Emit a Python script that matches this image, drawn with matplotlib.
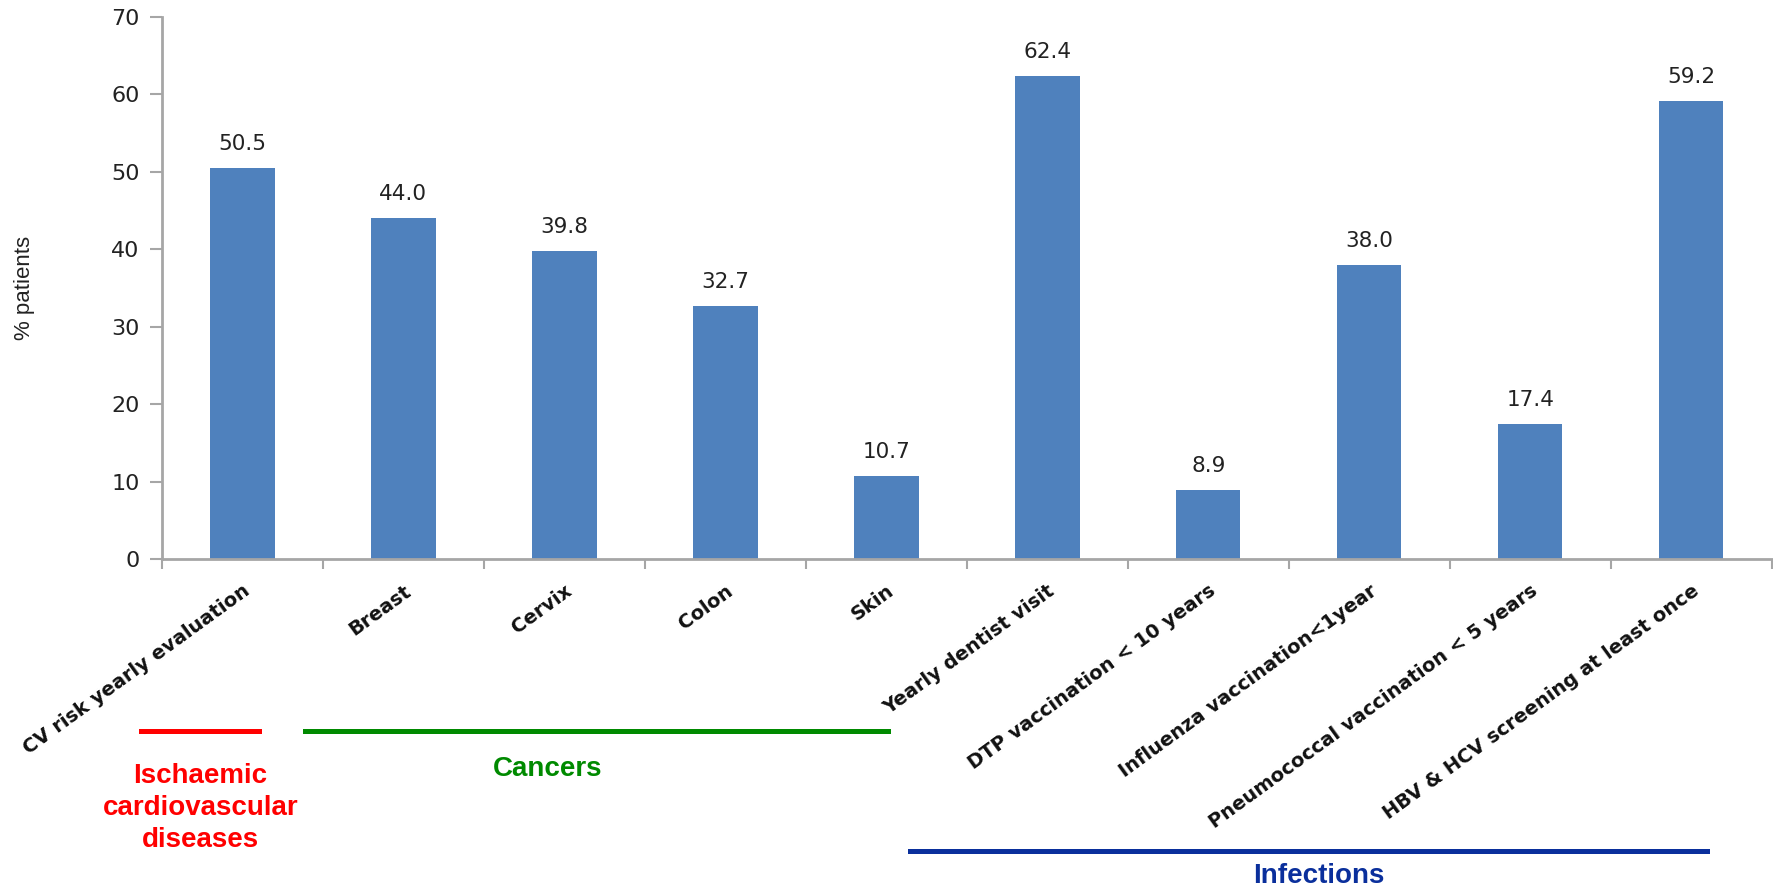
import matplotlib
matplotlib.use("Agg")
import matplotlib.pyplot as plt
from matplotlib.lines import Line2D
import numpy as np

# Data
categories = [
    "CV risk yearly evaluation", "Breast", "Cervix", "Colon", "Skin",
    "Yearly dentist visit", "DTP vaccination < 10 years",
    "Influenza vaccination<1year", "Pneumococcal vaccination < 5 years",
    "HBV & HCV screening at least once",
]
values = [50.5, 44.0, 39.8, 32.7, 10.7, 62.4, 8.9, 38.0, 17.4, 59.2]
y_ticks = [0, 10, 20, 30, 40, 50, 60, 70]

group_names = ["Ischaemic\ncardiovascular\ndiseases", "Cancers", "Infections"]
group_colors = ["#FF0000", "#008A00", "#0A2F9C"]

BAR = "#4F81BD"
AXIS = "#A6A6A6"
NARROW = ["Liberation Sans Narrow", "Liberation Sans", "DejaVu Sans"]

fig = plt.figure(figsize=(17.73, 8.93), dpi=100)
ax = fig.add_axes([0.0913, 0.374, 0.908, 0.607])

x = np.arange(len(categories))
ax.bar(x, values, width=0.4, color=BAR, zorder=2)
for xi, v in zip(x, values):
    ax.text(xi, v + 1.8, f"{v:.1f}", ha="center", va="bottom",
            fontsize=15.5, color="#222222")

ax.set_xlim(-0.5, len(categories) - 0.5)
ax.set_ylim(0, 70)
ax.set_yticks(y_ticks)
ax.tick_params(axis="y", labelsize=16, labelcolor="#222222", color=AXIS,
               length=9, width=1.5, direction="out", pad=7)

# the source picture is stretched sideways, so the 45° labels sit at ~36°
ax.set_xticks(x)
ax.set_xticklabels(categories, rotation=36, ha="right", rotation_mode="anchor",
                   fontsize=14, fontweight="bold", color="#111111")
ax.tick_params(axis="x", length=0, pad=16)
ax.set_xticks(np.arange(-0.5, len(categories), 1.0), minor=True)
ax.tick_params(axis="x", which="minor", length=7, width=1.5, color=AXIS,
               direction="out")

for side in ["top", "right"]:
    ax.spines[side].set_visible(False)
for side in ["left", "bottom"]:
    ax.spines[side].set_color(AXIS)
    ax.spines[side].set_linewidth(2)

ax.set_ylabel("% patients", fontsize=16, family=NARROW, color="#222222")
ax.yaxis.set_label_coords(-0.079, 0.5)

# group brackets below the axis (figure coordinates)
line_spans = [(0.0797, 0.146, 0.181), (0.172, 0.501, 0.181), (0.513, 0.963, 0.047)]
text_pos = [(0.113, 0.095), (0.309, 0.139), (0.744, 0.019)]
for (x0, x1, yl), (tx, ty), name, col in zip(line_spans, text_pos, group_names, group_colors):
    fig.add_artist(Line2D([x0, x1], [yl, yl], color=col, lw=3.6,
                          transform=fig.transFigure))
    fig.text(tx, ty, name, ha="center", va="center", color=col,
             fontsize=20, fontweight="bold", family=NARROW, linespacing=1.3)

fig.savefig("out.png", dpi=100)
